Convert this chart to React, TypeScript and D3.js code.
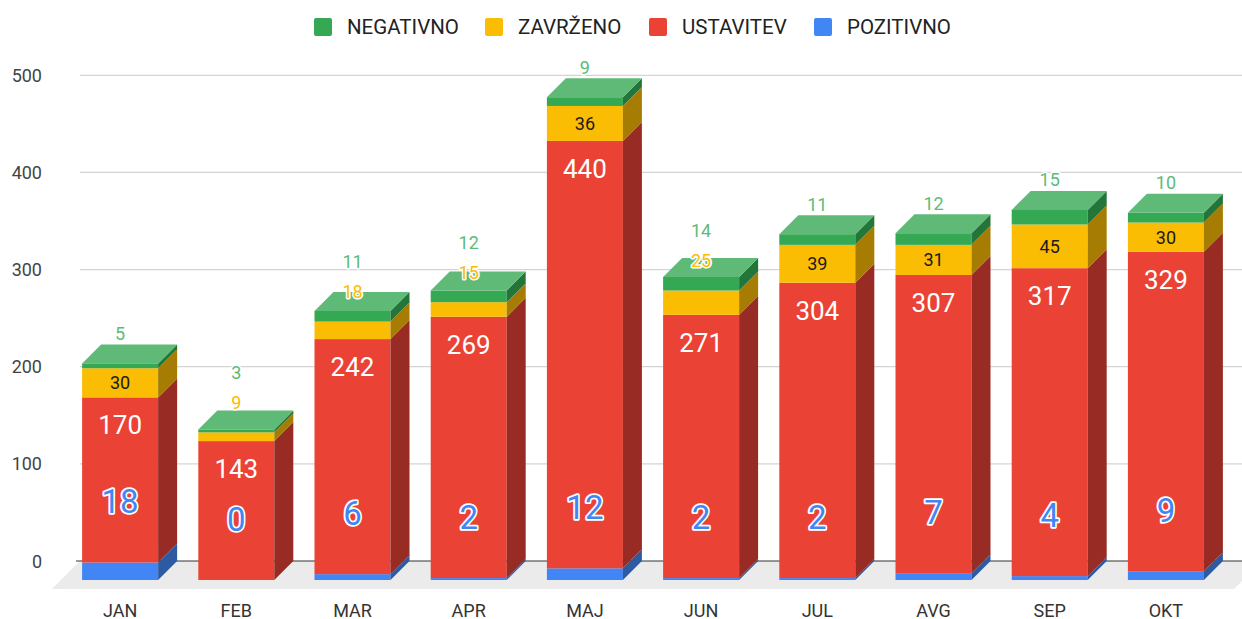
import React from "react";
import * as d3 from "d3";

const categories = ["JAN", "FEB", "MAR", "APR", "MAJ", "JUN", "JUL", "AVG", "SEP", "OKT"];
const pozitivno = [18, 0, 6, 2, 12, 2, 2, 7, 4, 9];
const ustavitev = [170, 143, 242, 269, 440, 271, 304, 307, 317, 329];
const zavrzeno = [30, 9, 18, 15, 36, 25, 39, 31, 45, 30];
const negativno = [5, 3, 11, 12, 9, 14, 11, 12, 15, 10];
const yTicks = [0, 100, 200, 300, 400, 500];

const seriesDefs = [
  { name: "POZITIVNO", values: pozitivno, front: "#4285f4", side: "#2c5aa3", top: "#6a9ef6" },
  { name: "USTAVITEV", values: ustavitev, front: "#ea4335", side: "#982b24", top: "#ee6a5e" },
  { name: "ZAVRŽENO", values: zavrzeno, front: "#fbbc04", side: "#a67c03", top: "#fccb3c" },
  { name: "NEGATIVNO", values: negativno, front: "#34a853", side: "#23753a", top: "#5fba77" },
];
const legendOrder = ["NEGATIVNO", "ZAVRŽENO", "USTAVITEV", "POZITIVNO"];

const W = 1242;
const H = 619;
const D = 19; // 3D depth offset
const FONT = "Roboto, 'Noto Sans', Arial, sans-serif";

export default function App() {
  const y = d3.scaleLinear().domain([0, 500]).range([561, 75.3]);
  const x = d3.scaleBand<string>().domain(categories).range([81, 1243]).paddingInner(0.346).paddingOuter(0.173);
  const bw = x.bandwidth();
  const stack = d3.stack<number>().keys(seriesDefs.map((s) => s.name)).value((i, key) => {
    const s = seriesDefs.find((d) => d.name === key)!;
    return s.values[i];
  });
  const stacked = stack(categories.map((_, i) => i));

  const legendTextX = [347, 518, 682, 847];

  const bars: React.ReactNode[] = [];
  const labels: React.ReactNode[] = [];

  categories.forEach((cat, i) => {
    const bx = (x(cat) as number) - D; // front face left
    const fx1 = bx + bw;
    const cx = bx + bw / 2;
    const lastNonZero = seriesDefs.reduce((acc, s, k) => (s.values[i] > 0 ? k : acc), 0);
    let lastOverflowY = Infinity;
    seriesDefs.forEach((s, k) => {
      const [v0, v1] = stacked[k][i];
      const yb = y(v0) + D;
      const yt = y(v1) + D;
      if (v1 > v0) {
        bars.push(
          <g key={`${cat}-${k}`}>
            <rect x={bx} y={yt} width={bw} height={yb - yt} fill={s.front} />
            <polygon
              points={`${fx1},${yt} ${fx1 + D},${yt - D} ${fx1 + D},${yb - D} ${fx1},${yb}`}
              fill={s.side}
            />
            {k === lastNonZero && (
              <polygon
                points={`${bx},${yt} ${fx1},${yt} ${fx1 + D},${yt - D} ${bx + D},${yt - D}`}
                fill={s.top}
              />
            )}
          </g>
        );
      }
      const val = s.values[i];
      if (k === 0) {
        labels.push(
          <text
            key={`l-${cat}-${k}`}
            x={cx}
            y={yt - 61}
            textAnchor="middle"
            dominantBaseline="central"
            fontSize={33}
            fill={s.front}
            stroke="#ffffff"
            strokeWidth={3.5}
            paintOrder="stroke"
            strokeLinejoin="round"
            fontFamily={FONT}
          >
            {val}
          </text>
        );
      } else if (k === 1) {
        labels.push(
          <text
            key={`l-${cat}-${k}`}
            x={cx}
            y={yt + 28}
            textAnchor="middle"
            dominantBaseline="central"
            fontSize={26}
            fill="#ffffff"
            fontFamily={FONT}
          >
            {val}
          </text>
        );
      } else {
        const h = yb - yt;
        if (h >= 27) {
          labels.push(
            <text
              key={`l-${cat}-${k}`}
              x={cx}
              y={(yt + yb) / 2}
              textAnchor="middle"
              dominantBaseline="central"
              fontSize={18}
              fill="#1a1a1a"
              fontFamily={FONT}
            >
              {val}
            </text>
          );
        } else {
          let ly = yt - 30;
          if (ly > lastOverflowY - 30) ly = lastOverflowY - 30;
          lastOverflowY = ly;
          labels.push(
            <text
              key={`l-${cat}-${k}`}
              x={cx}
              y={ly}
              textAnchor="middle"
              dominantBaseline="central"
              fontSize={18}
              fill={k === 3 ? "#5dbb78" : s.front}
              stroke="#ffffff"
              strokeWidth={3}
              paintOrder="stroke"
              strokeLinejoin="round"
              fontFamily={FONT}
            >
              {val}
            </text>
          );
        }
      }
    });
  });

  const y0 = y(0);

  return (
    <svg width={W} height={H} style={{ position: "absolute", left: 0, top: 0, background: "#fff" }}>
      <rect x={0} y={0} width={W} height={H} fill="#ffffff" />
      {/* legend */}
      {legendOrder.map((name, i) => {
        const s = seriesDefs.find((d) => d.name === name)!;
        return (
          <g key={name}>
            <rect x={legendTextX[i] - 33} y={18} width={18} height={18} rx={2} fill={s.front} />
            <text
              x={legendTextX[i]}
              y={27}
              dominantBaseline="central"
              fontSize={20.5}
              fill="#222"
              fontFamily={FONT}
            >
              {name}
            </text>
          </g>
        );
      })}
      {/* gridlines */}
      {yTicks.filter((t) => t > 0).map((t) => (
        <line key={t} x1={80} x2={W} y1={y(t)} y2={y(t)} stroke="#d4d4d4" strokeWidth={1.2} />
      ))}
      {/* y labels */}
      {yTicks.map((t) => (
        <text
          key={`yl-${t}`}
          x={42}
          y={y(t)}
          textAnchor="end"
          dominantBaseline="central"
          fontSize={18}
          fill="#444"
          fontFamily={FONT}
        >
          {t}
        </text>
      ))}
      {/* floor */}
      <polygon
        points={`${80},${y0} ${W + 20},${y0} ${W - 8},${y0 + 28} ${52},${y0 + 28}`}
        fill="#ebebeb"
      />
      <line x1={76} x2={W} y1={y0} y2={y0} stroke="#333" strokeWidth={1} />
      {bars}
      {labels}
      {/* x labels */}
      {categories.map((c) => (
        <text
          key={`xl-${c}`}
          x={(x(c) as number) - D + bw / 2}
          y={610}
          textAnchor="middle"
          dominantBaseline="central"
          fontSize={18}
          fill="#333"
          fontFamily={FONT}
        >
          {c}
        </text>
      ))}
    </svg>
  );
}
